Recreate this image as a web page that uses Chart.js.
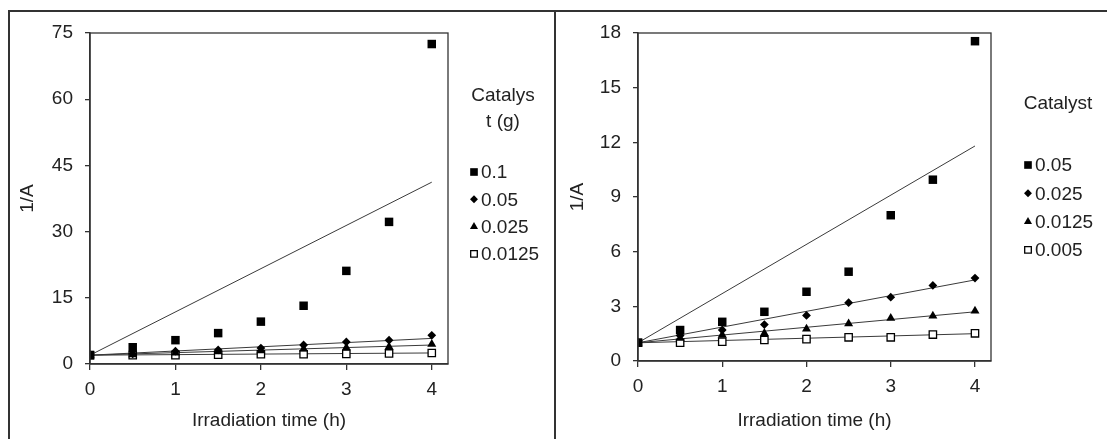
<!DOCTYPE html>
<html>
<head>
<meta charset="utf-8">
<script src="https://cdn.jsdelivr.net/npm/chart.js@4.4.0/dist/chart.umd.min.js"></script>
<style>
  body { margin: 0; background: #fff; }
  #wrap { position: relative; width: 1107px; height: 439px; overflow: hidden; }
  canvas { position: absolute; top: 0; }
  .frame { position: absolute; background: #333; }
</style>
</head>
<body>
<div id="wrap">
  <canvas id="left" width="555" height="439" style="left:0"></canvas>
  <canvas id="right" width="551" height="439" style="left:556px"></canvas>
  <div class="frame" style="left:8px;top:10px;width:1099px;height:1.5px"></div>
  <div class="frame" style="left:8px;top:10px;width:1.5px;height:429px"></div>
  <div class="frame" style="left:554px;top:10px;width:1.5px;height:429px"></div>
</div>
<script>
// irradiation time (h)
const times = [0, 0.5, 1, 1.5, 2, 2.5, 3, 3.5, 4];

// left panel: catalyst (g)
const leftLabels = ['0.1', '0.05', '0.025', '0.0125'];
const left01    = [2.0, 3.8, 5.4, 7.0, 9.6, 13.2, 21.1, 32.2, 72.5];
const left005   = [2.0, 2.3, 2.9, 3.2, 3.6, 4.3, 5.0, 5.4, 6.5];
const left0025  = [2.0, 2.1, 2.5, 2.8, 3.0, 3.4, 3.7, 3.9, 4.5];
const left00125 = [2.0, 2.0, 2.0, 2.1, 2.2, 2.2, 2.3, 2.4, 2.5];
const leftTrendStart = [2.0, 2.0, 2.0, 2.0];
const leftTrendEnd   = [41.2, 5.8, 4.3, 2.5];
const leftYTicks = [0, 15, 30, 45, 60, 75];

// right panel: catalyst
const rightLabels = ['0.05', '0.025', '0.0125', '0.005'];
const right005   = [1.0, 1.7, 2.15, 2.7, 3.8, 4.9, 8.0, 9.95, 17.55];
const right0025  = [1.0, 1.4, 1.7, 2.0, 2.5, 3.2, 3.5, 4.15, 4.55];
const right00125 = [1.0, 1.25, 1.43, 1.52, 1.76, 2.05, 2.35, 2.47, 2.75];
const right0005  = [1.0, 1.0, 1.06, 1.15, 1.2, 1.3, 1.3, 1.45, 1.52];
const rightTrendStart = [1.0, 1.0, 1.0, 1.0];
const rightTrendEnd   = [11.8, 4.45, 2.7, 1.5];
const rightYTicks = [0, 3, 6, 9, 12, 15, 18];

const xTicks = [0, 1, 2, 3, 4];

const INK = '#222';
const LINE = '#333';
const FONT = 'Arial, "Liberation Sans", sans-serif';
const FSIZE = 19;

// marker styles: filled square, diamond, triangle, open square
const markers = [
    { pointStyle: 'rect', radius: 6, bg: '#000', border: '#000', bw: 0 },
    { pointStyle: 'rectRot', radius: 4.4, bg: '#000', border: '#000', bw: 0 },
    { pointStyle: 'triangle', radius: 5.2, bg: '#000', border: '#000', bw: 0 },
    { pointStyle: 'rect', radius: 5.2, bg: '#fff', border: '#000', bw: 1.3 }
];

function toPoints(vals) {
    return vals.map((v, i) => ({ x: times[i], y: v }));
}

function buildDatasets(labels, series, tStart, tEnd) {
    const sets = [];
    series.forEach((vals, i) => {
        const m = markers[i];
        sets.push({
            label: labels[i],
            data: toPoints(vals),
            pointStyle: m.pointStyle,
            pointRadius: m.radius,
            backgroundColor: m.bg,
            borderColor: m.border,
            borderWidth: m.bw,
            showLine: false,
            order: 0
        });
    });
    series.forEach((vals, i) => {
        sets.push({
            label: 'trend ' + labels[i],
            isTrend: true,
            data: [{ x: times[0], y: tStart[i] }, { x: times[times.length - 1], y: tEnd[i] }],
            showLine: true,
            pointRadius: 0,
            borderColor: '#3a3a3a',
            borderWidth: 1,
            backgroundColor: '#3a3a3a',
            order: 1
        });
    });
    return sets;
}

// frame round the plot area
const boxPlugin = {
    id: 'plotBox',
    afterDraw(chart) {
        const { ctx, chartArea: a } = chart;
        ctx.save();
        ctx.strokeStyle = LINE;
        ctx.lineWidth = 1.3;
        ctx.strokeRect(a.left, a.top, a.right - a.left, a.bottom - a.top);
        ctx.restore();
    }
};

// legend on the right, with a title that can wrap over lines
const sideLegend = {
    id: 'sideLegend',
    afterDraw(chart, args, opts) {
        const ctx = chart.ctx;
        ctx.save();
        ctx.fillStyle = INK;
        ctx.font = FSIZE + 'px ' + FONT;
        ctx.textBaseline = 'middle';
        ctx.textAlign = 'center';
        opts.title.forEach((t, i) => ctx.fillText(t, opts.titleX, opts.titleY[i]));
        ctx.textAlign = 'left';
        const items = chart.data.datasets.filter(d => !d.isTrend);
        items.forEach((d, i) => {
            const y = opts.firstY + i * opts.step;
            ctx.fillStyle = d.backgroundColor;
            ctx.strokeStyle = d.borderColor;
            ctx.lineWidth = d.borderWidth || 0.01;
            Chart.helpers.drawPoint(ctx, {
                pointStyle: d.pointStyle,
                radius: d.pointRadius * 0.9,
                rotation: 0,
                borderWidth: d.borderWidth
            }, opts.markerX, y);
            ctx.fillStyle = INK;
            ctx.fillText(d.label, opts.textX, y + 1);
        });
        ctx.restore();
    }
};

function makeChart(id, datasets, yMax, yTicks, g) {
    return new Chart(document.getElementById(id), {
        type: 'scatter',
        data: { datasets: datasets },
        plugins: [boxPlugin, sideLegend],
        options: {
            responsive: false,
            animation: false,
            layout: { padding: { top: g.top, right: g.right, left: 0, bottom: 0 } },
            plugins: {
                legend: { display: false },
                tooltip: { enabled: false },
                sideLegend: g.legend
            },
            scales: {
                x: {
                    type: 'linear',
                    min: 0,
                    max: 4.19,
                    afterFit: s => { s.height = g.xHeight; },
                    afterBuildTicks: s => { s.ticks = xTicks.map(v => ({ value: v })); },
                    border: { color: LINE, width: 1.5 },
                    grid: { drawOnChartArea: false, drawTicks: true, tickLength: 6, color: LINE, lineWidth: 1.3 },
                    ticks: { color: INK, font: { family: FONT, size: FSIZE }, padding: 8, maxRotation: 0 },
                    title: {
                        display: true,
                        text: 'Irradiation time (h)',
                        color: INK,
                        font: { family: FONT, size: FSIZE },
                        padding: { top: 0, bottom: 7 }
                    }
                },
                y: {
                    type: 'linear',
                    min: 0,
                    max: yMax,
                    afterFit: s => { s.width = g.yWidth; },
                    afterBuildTicks: s => { s.ticks = yTicks.map(v => ({ value: v })); },
                    border: { color: LINE, width: 1.5 },
                    grid: { drawOnChartArea: false, drawTicks: true, tickLength: 5, color: LINE, lineWidth: 1.3 },
                    ticks: { color: INK, font: { family: FONT, size: FSIZE }, padding: 12 },
                    title: {
                        display: true,
                        text: '1/A',
                        color: INK,
                        font: { family: FONT, size: FSIZE },
                        padding: { top: g.yTitlePad, bottom: 0 }
                    }
                }
            }
        }
    });
}

makeChart('left',
    buildDatasets(leftLabels, [left01, left005, left0025, left00125], leftTrendStart, leftTrendEnd),
    75, leftYTicks,
    {
        top: 33, right: 107, xHeight: 75, yWidth: 90, yTitlePad: 16,
        legend: { title: ['Catalys', 't (g)'], titleX: 503, titleY: [96, 122], markerX: 474, textX: 481, firstY: 172, step: 27.3 }
    });

makeChart('right',
    buildDatasets(rightLabels, [right005, right0025, right00125, right0005], rightTrendStart, rightTrendEnd),
    18, rightYTicks,
    {
        top: 33, right: 116, xHeight: 78, yWidth: 82, yTitlePad: 10,
        legend: { title: ['Catalyst'], titleX: 502, titleY: [104], markerX: 472, textX: 479, firstY: 165, step: 28.3 }
    });
</script>
</body>
</html>
